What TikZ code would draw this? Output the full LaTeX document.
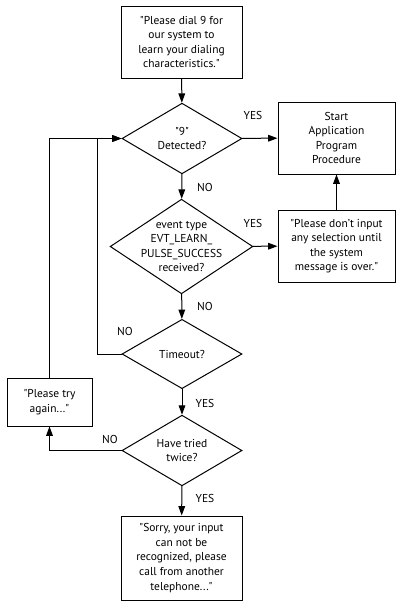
\documentclass[tikz,border=0pt]{standalone}
\usepackage{fontspec}
\setmainfont{PT Sans}
\usetikzlibrary{shapes.geometric, arrows.meta, positioning}
\newcommand{\qt}{\textquotedbl}

\begin{document}
\begin{tikzpicture}[
      x=0.75pt, y=-0.75pt,
      every node/.style={font=\fontsize{8.6}{10.9}\selectfont},
      box/.style={rectangle, draw, line width=0.75pt, minimum width=90.75pt, minimum height=54pt, align=center, inner sep=2pt},
      decision/.style={diamond, draw, line width=0.75pt, inner sep=-5pt, aspect=1.6, align=center},
      answer/.style={inner sep=1pt},
      arrow/.style={-{Triangle[length=7pt, width=5pt]}, line width=0.75pt}
      ]

      \useasboundingbox (0,0) rectangle (396,601);

      % Prompt
      \node[box] (prompt) at (181.5,42) {\qt Please dial 9 for\\our system to\\learn your dialing\\characteristics.\qt};

      % Decisions - main column
      \node[decision, minimum width=90pt, minimum height=53pt] (nine) at (182,138.5) {\qt 9\qt\\Detected?};
      \node[decision, minimum width=107pt, minimum height=71pt, aspect=1.5] (event) at (181.5,246.5) {event type\\EVT\_LEARN\_\\PULSE\_SUCCESS\\received?};
      \node[decision, minimum width=90pt, minimum height=52pt] (timeout) at (182,354) {Timeout?};
      \node[decision, minimum width=90pt, minimum height=53pt] (twice) at (182,450.5) {Have tried\\twice?};

      % Right column
      \node[box, minimum width=87.75pt] (start) at (336.5,138) {Start\\Application\\Program\\Procedure};
      \node[box, minimum width=87.75pt] (wait) at (336.5,246) {\qt Please don't input\\any selection until\\the system\\message is over.\qt};

      % Left
      \node[box, minimum width=63.75pt, minimum height=36pt] (retry) at (49.5,402) {\qt Please try\\again...\qt};

      % Result
      \node[box, minimum height=63pt] (sorry) at (181.5,558) {\qt Sorry, your input\\can not be\\recognized, please\\call from another\\telephone...\qt};

      % Labels
      \node[answer] (y1) at (253,115) {YES};
      \node[answer] (n1) at (205,187) {NO};
      \node[answer] (y2) at (253,223) {YES};
      \node[answer] (n2) at (205,306) {NO};
      \node[answer] (n3) at (125,331) {NO};
      \node[answer] (y3) at (205,403) {YES};
      \node[answer] (n4) at (110,439) {NO};
      \node[answer] (y4) at (205,498) {YES};

      % Arrows - main flow
      \draw[arrow] (prompt) -- (nine);
      \draw[arrow] (nine) -- (start);
      \draw[arrow] (nine) -- (event);
      \draw[arrow] (event) -- (wait);
      \draw[arrow] (wait) -- (start);
      \draw[arrow] (event) -- (timeout);
      \draw[arrow] (timeout) -- (twice);
      \draw[arrow] (twice) -- (sorry);

      % Loops back
      \draw[arrow] (timeout.west) -- ++(-24,0) |- (nine.west);
      \draw[arrow] (retry.north) |- (nine.west);
      \draw[arrow] (twice.west) -| (retry.south);

   \end{tikzpicture}
\end{document}
